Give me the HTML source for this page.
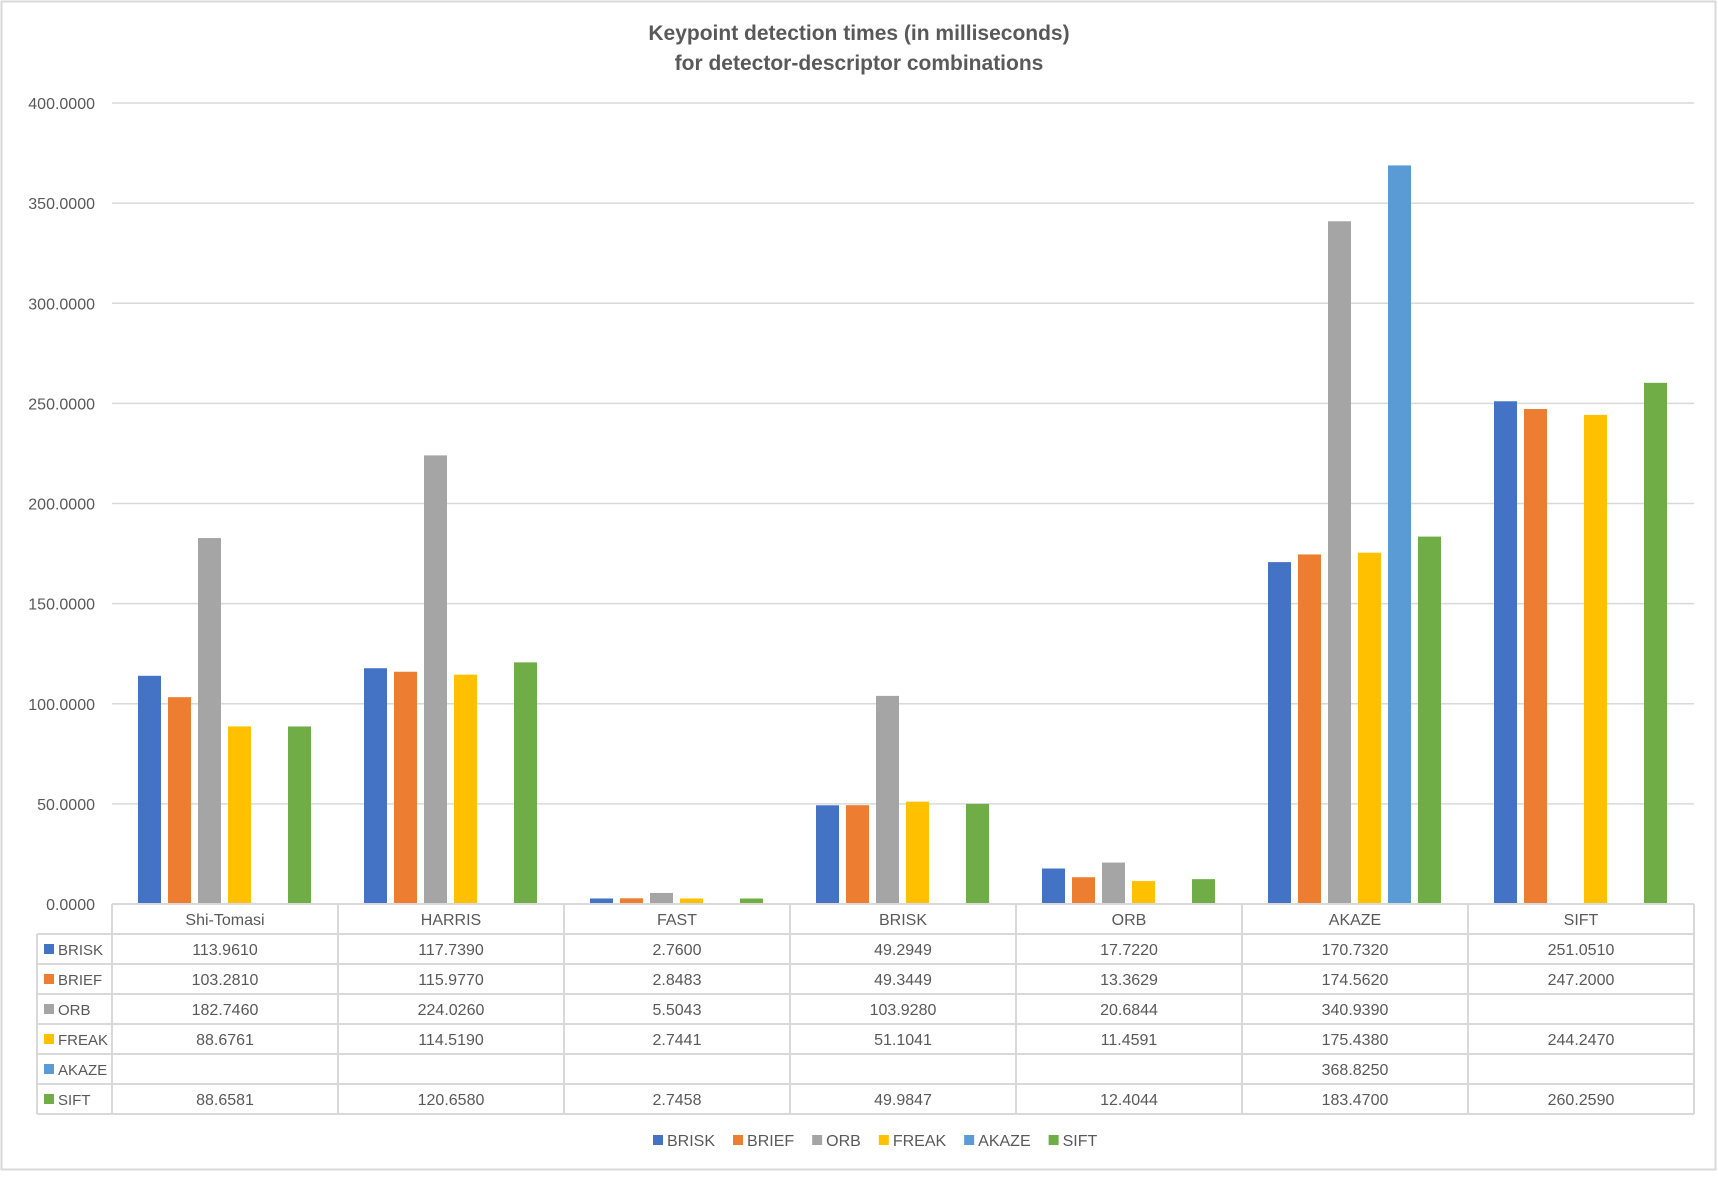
<!DOCTYPE html>
<html><head><meta charset="utf-8"><style>
html,body{margin:0;padding:0;background:#fff;}
svg text{font-family:"Liberation Sans",sans-serif;}
</style></head><body>
<svg id="chart" width="1718" height="1172" viewBox="0 0 1718 1172" xmlns="http://www.w3.org/2000/svg">
<rect x="1.5" y="1.5" width="1714" height="1168" fill="#fff" stroke="#d9d9d9" stroke-width="2"/>
<text x="859" y="40" text-anchor="middle" font-size="21" font-weight="bold" fill="#595959">Keypoint detection times (in milliseconds)</text>
<text x="859" y="70" text-anchor="middle" font-size="21" font-weight="bold" fill="#595959">for detector-descriptor combinations</text>
<g id="grid"></g><g id="bars"></g><g id="table"></g><g id="legend"></g>
</svg>
<script>
const categories=["Shi-Tomasi","HARRIS","FAST","BRISK","ORB","AKAZE","SIFT"];
const seriesNames=["BRISK","BRIEF","ORB","FREAK","AKAZE","SIFT"];
const seriesColors=["#4472c4","#ed7d31","#a5a5a5","#ffc000","#5b9bd5","#70ad47"];
const sBRISK=[113.9610,117.7390,2.7600,49.2949,17.7220,170.7320,251.0510];
const sBRIEF=[103.2810,115.9770,2.8483,49.3449,13.3629,174.5620,247.2000];
const sORB=[182.7460,224.0260,5.5043,103.9280,20.6844,340.9390,null];
const sFREAK=[88.6761,114.5190,2.7441,51.1041,11.4591,175.4380,244.2470];
const sAKAZE=[null,null,null,null,null,368.8250,null];
const sSIFT=[88.6581,120.6580,2.7458,49.9847,12.4044,183.4700,260.2590];
const yTicks=[0,50,100,150,200,250,300,350,400];
const series=[sBRISK,sBRIEF,sORB,sFREAK,sAKAZE,sSIFT];
const NS="http://www.w3.org/2000/svg";
const X0=112,CW=226,Y0=904,YTOP=103,YMAX=400,TL=37,RH=30;
const y=v=>Y0-(v/YMAX)*(Y0-YTOP);
const xc=i=>X0+i*CW;
function mk(tag,attrs,parent,txt){const e=document.createElementNS(NS,tag);for(const k in attrs)e.setAttribute(k,attrs[k]);if(txt!=null)e.textContent=txt;parent.appendChild(e);return e;}
const g=document.getElementById('grid');
yTicks.forEach(t=>{
  if(t>0){const l=mk('line',{x1:X0,x2:X0+7*CW,y1:y(t),y2:y(t),stroke:'#d9d9d9','stroke-width':1.5},g);
  
  }
  const tx=mk('text',{x:95,y:y(t)+6,'text-anchor':'end','font-size':16,fill:'#595959'},g,t.toFixed(4));
  
  
});
const b=document.getElementById('bars');
series.forEach((s,si)=>{s.forEach((v,ci)=>{if(v==null)return;
  const r=mk('rect',{x:xc(ci)+26+si*30,y:y(v),width:23,height:Y0-y(v),fill:seriesColors[si]},b);
  
  
});});
const tb=document.getElementById('table');
const st={stroke:'#d9d9d9','stroke-width':2};
mk('line',Object.assign({x1:X0,x2:X0+7*CW,y1:Y0,y2:Y0},st),tb);
for(let r=1;r<=7;r++){mk('line',Object.assign({x1:TL,x2:X0+7*CW,y1:Y0+r*RH,y2:Y0+r*RH},st),tb);}
mk('line',Object.assign({x1:TL,x2:TL,y1:Y0+RH,y2:Y0+7*RH},st),tb);
for(let c=0;c<=7;c++){mk('line',Object.assign({x1:xc(c),x2:xc(c),y1:Y0,y2:Y0+7*RH},st),tb);}
categories.forEach((c,ci)=>{
  const t=mk('text',{x:xc(ci)+CW/2,y:Y0+21,'text-anchor':'middle','font-size':16,fill:'#595959'},tb,c);
  
  
});
series.forEach((s,si)=>{
  const ry=Y0+(si+1)*RH;
  mk('rect',{x:44,y:ry+10,width:10,height:10,fill:seriesColors[si]},tb);
  const lt=mk('text',{x:58,y:ry+21,'font-size':15,fill:'#595959'},tb,seriesNames[si]);
  
  
  s.forEach((v,ci)=>{if(v==null)return;
    const t=mk('text',{x:xc(ci)+CW/2,y:ry+21,'text-anchor':'middle','font-size':16,fill:'#595959'},tb,v.toFixed(4));
    
    
  });
});
const lg=document.getElementById('legend');
let lx=653;
seriesNames.forEach((n,si)=>{
  const gg=mk('g',{},lg);
  
  
  mk('rect',{x:lx,y:1135,width:10,height:10,fill:seriesColors[si]},gg);
  const t=mk('text',{x:lx+14,y:1146,'font-size':16,fill:'#595959'},gg,n);
  lx+=14+t.getComputedTextLength()+18;
});
</script>
</body></html>
